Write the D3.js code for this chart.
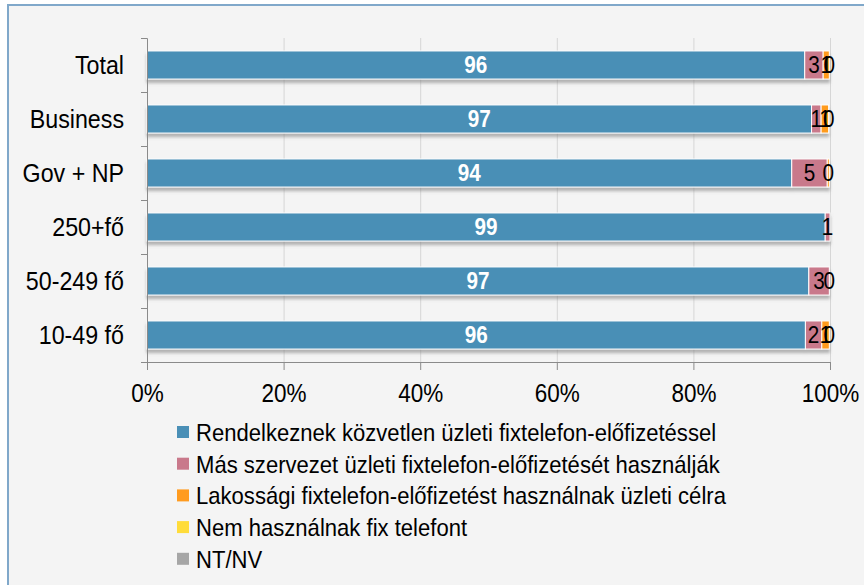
<!DOCTYPE html>
<html>
<head>
<meta charset="utf-8">
<script src="https://cdn.jsdelivr.net/npm/d3@7"></script>
<style>
  html, body { margin: 0; padding: 0; background: #fff; }
  svg { display: block; font-family: "Liberation Sans", Arial, sans-serif; }
</style>
</head>
<body>
<svg width="864" height="585"></svg>
<script>
// categories top to bottom
var categories = ["Total", "Business", "Gov + NP", "250+fő", "50-249 fő", "10-49 fő"]

// series values in percent (null = no segment / no label)
var direct   = [96.3, 97.3, 94.4, 99.3, 96.9, 96.4]
var other    = [2.7, 1.4, 5.2, 0.7, 3.0, 2.4]
var resident = [0.9, 1.1, 0.3, null, null, 1.1]
var noPhone  = [0, 0, null, null, 0, 0]
var ntnv     = [null, null, null, null, null, null]

var seriesNames = [
  "Rendelkeznek közvetlen üzleti fixtelefon-előfizetéssel",
  "Más szervezet üzleti fixtelefon-előfizetését használják",
  "Lakossági fixtelefon-előfizetést használnak üzleti célra",
  "Nem használnak fix telefont",
  "NT/NV"
]
var seriesColors = ["#4a8fb6", "#c9798b", "#ff9b1f", "#ffdc3a", "#a6a6a6"]
var tickValues = [0, 20, 40, 60, 80, 100]

var allSeries = [direct, other, resident, noPhone, ntnv]

var svg = d3.select("svg")
var margin = {top: 38, left: 147, right: 34, bottom: 223}
var width = 864 - margin.left - margin.right
var height = 585 - margin.top - margin.bottom

// frame
svg.append("rect")
  .attr("x", 8).attr("y", 5).attr("width", 900).attr("height", 640)
  .attr("fill", "#f4f4f4").attr("stroke", "#80a8ca").attr("stroke-width", 2)

var defs = svg.append("defs")
var f = defs.append("filter").attr("id", "shadow")
  .attr("x", "-5%").attr("y", "-30%").attr("width", "110%").attr("height", "180%")
f.append("feDropShadow").attr("dx", 0).attr("dy", 3.5).attr("stdDeviation", 1.6)
  .attr("flood-color", "#7a7a7a").attr("flood-opacity", 0.55)

var g = svg.append("g").attr("transform", "translate(" + margin.left + "," + margin.top + ")")

var x = d3.scaleLinear().domain([0, 100]).range([0, width])
var y = d3.scaleBand().domain(categories).range([0, height]).paddingInner(0.48).paddingOuter(0.24)
var yEdge = d3.scaleLinear().domain([0, categories.length]).range([0, height])

// gridlines
g.append("g")
  .call(d3.axisBottom(x).tickValues(tickValues.slice(1)).tickSize(height).tickFormat(""))
  .call(s => s.select(".domain").remove())
  .call(s => s.selectAll("line").attr("stroke", "#d6d6d6"))

// stacked rows
var rows = categories.map((c, i) => {
  var x0 = 0
  return allSeries.map((s, k) => {
    var v = s[i]
    var seg = {cat: c, k: k, v: v, x0: x0, x1: x0 + (v || 0)}
    x0 = seg.x1
    return seg
  })
})
var segs = d3.merge(rows).filter(d => d.v != null)

g.append("g").attr("filter", "url(#shadow)")
  .selectAll("rect")
  .data(segs.filter(d => d.v > 0))
  .join("rect")
  .attr("x", d => x(d.x0))
  .attr("y", d => y(d.cat))
  .attr("width", d => x(d.x1) - x(d.x0))
  .attr("height", y.bandwidth())
  .attr("fill", d => seriesColors[d.k])
  .attr("stroke", "#fff")
  .attr("stroke-width", 1)

// value labels
g.append("g")
  .selectAll("text")
  .data(segs)
  .join("text")
  .attr("transform", d => "translate(" + x((d.x0 + d.x1) / 2) + "," + (y(d.cat) + y.bandwidth() / 2 + 8) + ") scale(0.9,1)")
  .attr("text-anchor", "middle")
  .attr("font-size", 23)
  .attr("font-weight", d => d.k === 0 ? "bold" : "normal")
  .attr("fill", d => d.k === 0 ? "#fff" : "#000")
  .text(d => Math.round(d.v))

// y axis: edge ticks + labels
g.append("g")
  .call(d3.axisLeft(yEdge).tickValues(d3.range(categories.length + 1)).tickSize(6).tickFormat(""))
  .call(s => s.selectAll("line, path").attr("stroke", "#8a8a8a"))

g.append("g")
  .selectAll("text")
  .data(categories)
  .join("text")
  .attr("transform", d => "translate(-23," + (y(d) + y.bandwidth() / 2 + 9) + ") scale(0.93,1)")
  .attr("text-anchor", "end")
  .attr("font-size", 25)
  .attr("fill", "#000")
  .text(d => d)

// x axis
var xAxis = g.append("g")
  .attr("transform", "translate(0," + height + ")")
  .call(d3.axisBottom(x).tickValues(tickValues).tickSize(8).tickSizeOuter(0).tickFormat(d => d + "%"))
xAxis.selectAll("line, path").attr("stroke", "#8a8a8a")
xAxis.selectAll("text")
  .attr("font-size", 25)
  .attr("fill", "#000")
  .attr("y", 40)
  .attr("dy", 0)
  .attr("transform", "scale(0.9,1)")

// legend
var legend = svg.append("g").attr("transform", "translate(177,432)")
var item = legend.selectAll("g")
  .data(seriesNames)
  .join("g")
  .attr("transform", (d, i) => "translate(0," + (i * 31.7) + ")")
item.append("rect")
  .attr("x", 0).attr("y", -6).attr("width", 12).attr("height", 12)
  .attr("fill", (d, i) => seriesColors[i])
item.append("text")
  .attr("transform", "translate(19,9) scale(0.92,1)")
  .attr("font-size", 24)
  .attr("fill", "#000")
  .text(d => d)
</script>
</body>
</html>
